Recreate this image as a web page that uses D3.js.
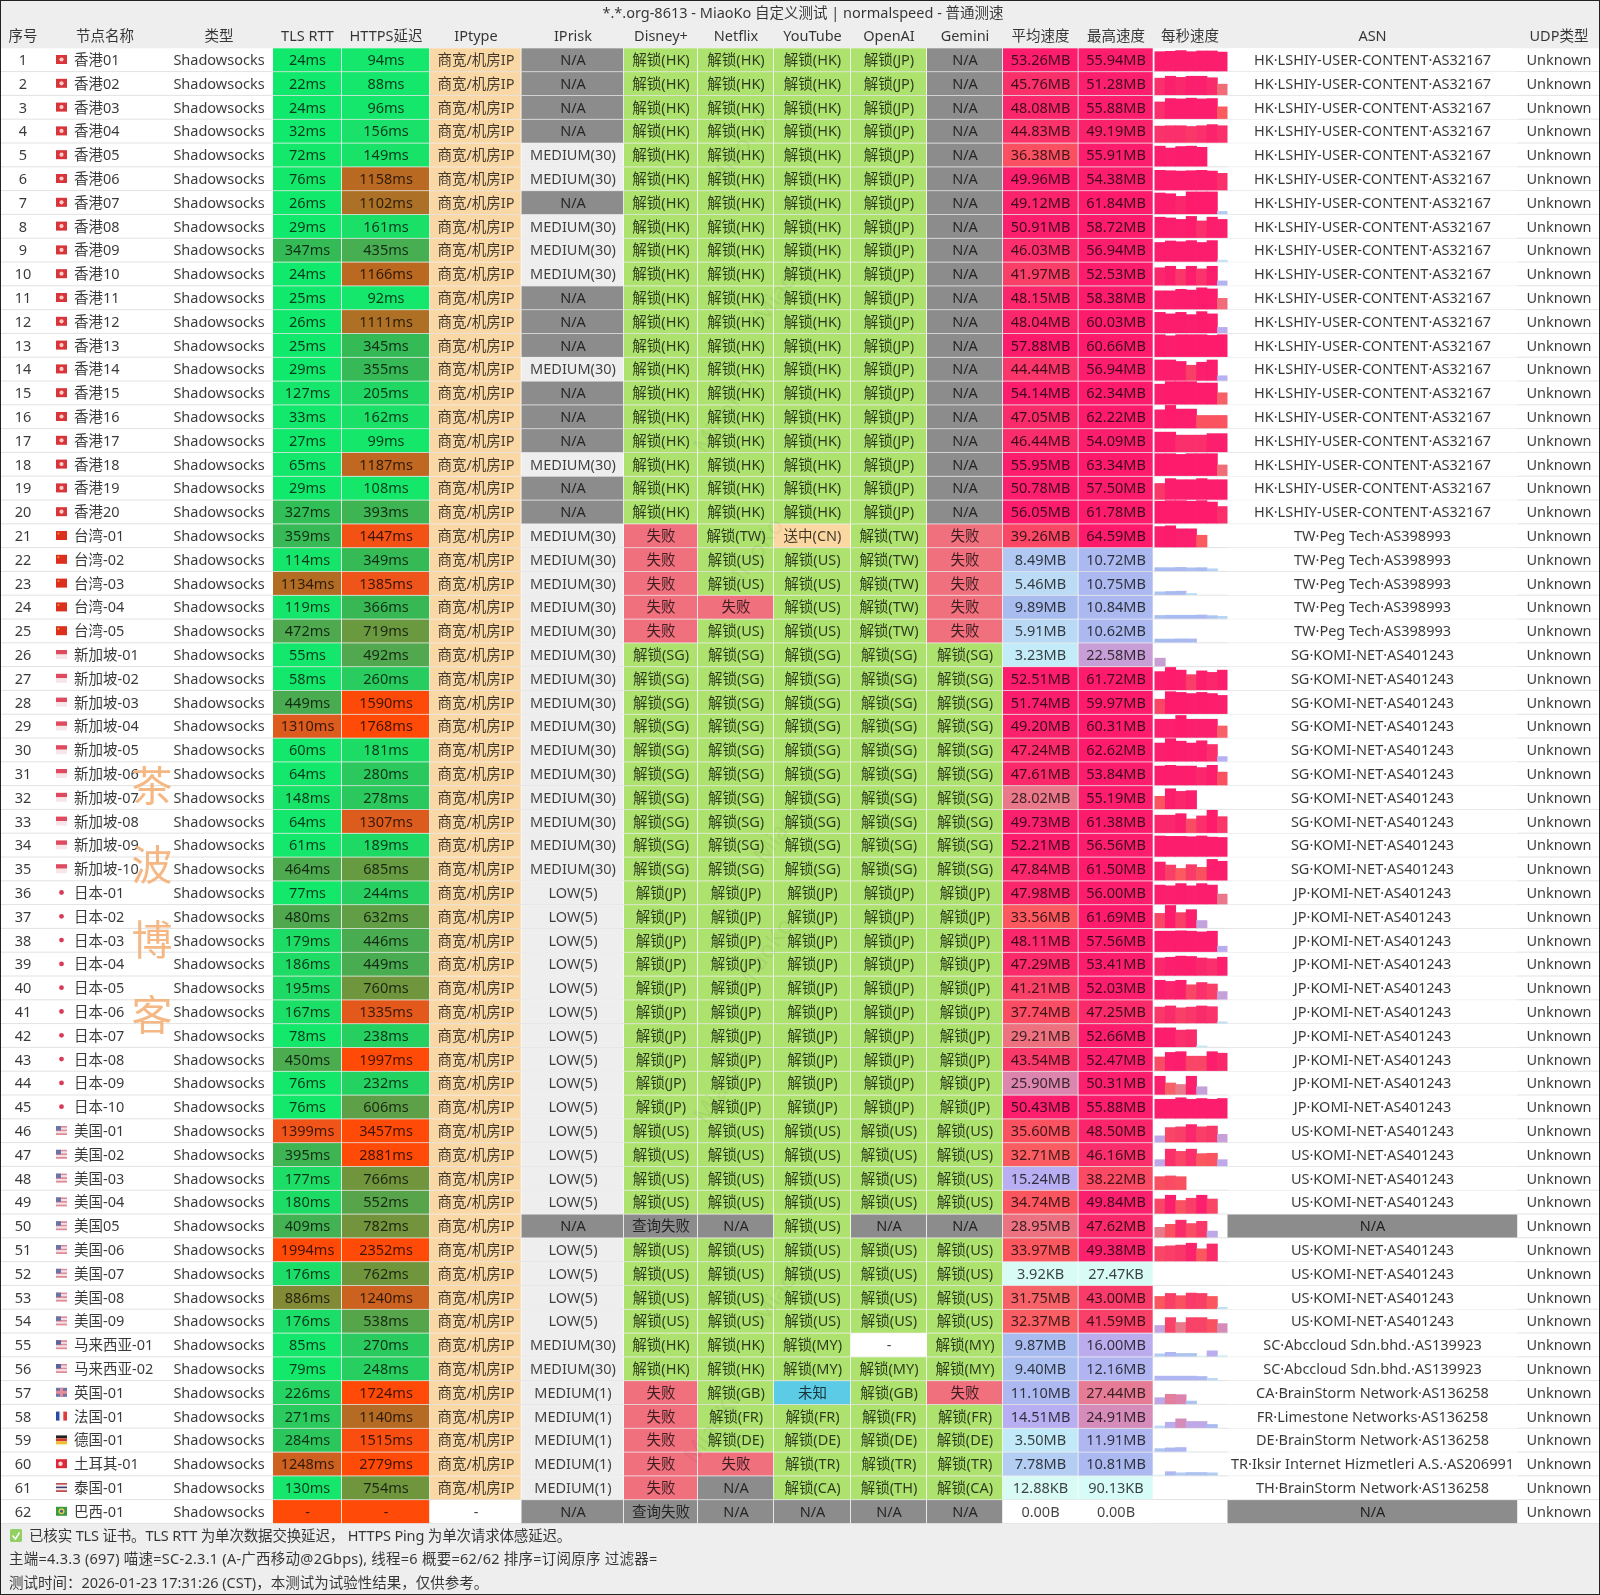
<!DOCTYPE html>
<html>
<head>
<meta charset="utf-8">
<title>MiaoKo normalspeed</title>
<script src="https://cdn.jsdelivr.net/npm/d3@7"></script>
<style>
  html, body { margin: 0; background: #fff; }
  svg { display: block; filter: blur(0.35px); }
  text { font-family: "Noto Sans", "Noto Sans CJK SC", sans-serif; font-size: 14.5px; }
</style>
</head>
<body>
<script>
var titleText = "*.*.org-8613 - MiaoKo 自定义测试 | normalspeed - 普通测速";
var headers = ["序号", "节点名称", "类型", "TLS RTT", "HTTPS延迟", "IPtype", "IPrisk", "Disney+", "Netflix", "YouTube", "OpenAI", "Gemini", "平均速度", "最高速度", "每秒速度", "ASN", "UDP类型"];
var footerLines = [
    "已核实 TLS 证书。TLS RTT 为单次数据交换延迟， HTTPS Ping 为单次请求体感延迟。",
    "主端=4.3.3 (697) 喵速=SC-2.3.1 (A-广西移动@2Gbps), 线程=6 概要=62/62 排序=订阅原序 过滤器=",
    "测试时间：2026-01-23 17:31:26 (CST)，本测试为试验性结果，仅供参考。"
];

var nodes = ["香港01","香港02","香港03","香港04","香港05","香港06","香港07","香港08","香港09","香港10","香港11","香港12","香港13","香港14","香港15","香港16","香港17","香港18","香港19","香港20",
    "台湾-01","台湾-02","台湾-03","台湾-04","台湾-05",
    "新加坡-01","新加坡-02","新加坡-03","新加坡-04","新加坡-05","新加坡-06","新加坡-07","新加坡-08","新加坡-09","新加坡-10",
    "日本-01","日本-02","日本-03","日本-04","日本-05","日本-06","日本-07","日本-08","日本-09","日本-10",
    "美国-01","美国-02","美国-03","美国-04","美国05","美国-06","美国-07","美国-08","美国-09",
    "马来西亚-01","马来西亚-02","英国-01","法国-01","德国-01","土耳其-01","泰国-01","巴西-01"];

var tlsRtt = ["24ms","22ms","24ms","32ms","72ms","76ms","26ms","29ms","347ms","24ms","25ms","26ms","25ms","29ms","127ms","33ms","27ms","65ms","29ms","327ms",
    "359ms","114ms","1134ms","119ms","472ms","55ms","58ms","449ms","1310ms","60ms","64ms","148ms","64ms","61ms","464ms",
    "77ms","480ms","179ms","186ms","195ms","167ms","78ms","450ms","76ms","76ms",
    "1399ms","395ms","177ms","180ms","409ms","1994ms","176ms","886ms","176ms","85ms","79ms","226ms","271ms","284ms","1248ms","130ms","-"];
var httpsPing = ["94ms","88ms","96ms","156ms","149ms","1158ms","1102ms","161ms","435ms","1166ms","92ms","1111ms","345ms","355ms","205ms","162ms","99ms","1187ms","108ms","393ms",
    "1447ms","349ms","1385ms","366ms","719ms","492ms","260ms","1590ms","1768ms","181ms","280ms","278ms","1307ms","189ms","685ms",
    "244ms","632ms","446ms","449ms","760ms","1335ms","238ms","1997ms","232ms","606ms",
    "3457ms","2881ms","766ms","552ms","782ms","2352ms","762ms","1240ms","538ms","270ms","248ms","1724ms","1140ms","1515ms","2779ms","754ms","-"];

var ipRisk = ("N/A N/A N/A N/A M30 M30 N/A M30 M30 M30 N/A N/A N/A M30 N/A N/A N/A M30 N/A N/A " +
    "M30 M30 M30 M30 M30 M30 M30 M30 M30 M30 M30 M30 M30 M30 M30 " +
    "L5 L5 L5 L5 L5 L5 L5 L5 L5 L5 L5 L5 L5 L5 N/A L5 L5 L5 L5 M30 M30 M1 M1 M1 M1 M1 N/A").split(" ");

// region codes stand for 解锁(XX), the rest is printed as it is
var disney = ("HK HK HK HK HK HK HK HK HK HK HK HK HK HK HK HK HK HK HK HK 失败 失败 失败 失败 失败 " +
    "SG SG SG SG SG SG SG SG SG SG JP JP JP JP JP JP JP JP JP JP US US US US 查询失败 US US US US HK HK 失败 失败 失败 失败 失败 查询失败").split(" ");
var netflix = ("HK HK HK HK HK HK HK HK HK HK HK HK HK HK HK HK HK HK HK HK TW US US 失败 US " +
    "SG SG SG SG SG SG SG SG SG SG JP JP JP JP JP JP JP JP JP JP US US US US N/A US US US US HK HK GB FR DE 失败 N/A N/A").split(" ");
var youtube = ("HK HK HK HK HK HK HK HK HK HK HK HK HK HK HK HK HK HK HK HK 送中(CN) US US US US " +
    "SG SG SG SG SG SG SG SG SG SG JP JP JP JP JP JP JP JP JP JP US US US US US US US US US MY MY 未知 FR DE TR CA N/A").split(" ");
var openai = ("JP JP JP JP JP JP JP JP JP JP JP JP JP JP JP JP JP JP JP JP TW TW TW TW TW " +
    "SG SG SG SG SG SG SG SG SG SG JP JP JP JP JP JP JP JP JP JP US US US US N/A US US US US - MY GB FR DE TR TH N/A").split(" ");
var gemini = ("N/A N/A N/A N/A N/A N/A N/A N/A N/A N/A N/A N/A N/A N/A N/A N/A N/A N/A N/A N/A 失败 失败 失败 失败 失败 " +
    "SG SG SG SG SG SG SG SG SG SG JP JP JP JP JP JP JP JP JP JP US US US US N/A US US US US MY MY 失败 FR DE TR CA N/A").split(" ");

var avgSpeed = ["53.26MB","45.76MB","48.08MB","44.83MB","36.38MB","49.96MB","49.12MB","50.91MB","46.03MB","41.97MB","48.15MB","48.04MB","57.88MB","44.44MB","54.14MB","47.05MB","46.44MB","55.95MB","50.78MB","56.05MB",
    "39.26MB","8.49MB","5.46MB","9.89MB","5.91MB","3.23MB","52.51MB","51.74MB","49.20MB","47.24MB","47.61MB","28.02MB","49.73MB","52.21MB","47.84MB",
    "47.98MB","33.56MB","48.11MB","47.29MB","41.21MB","37.74MB","29.21MB","43.54MB","25.90MB","50.43MB",
    "35.60MB","32.71MB","15.24MB","34.74MB","28.95MB","33.97MB","3.92KB","31.75MB","32.37MB","9.87MB","9.40MB","11.10MB","14.51MB","3.50MB","7.78MB","12.88KB","0.00B"];
var maxSpeed = ["55.94MB","51.28MB","55.88MB","49.19MB","55.91MB","54.38MB","61.84MB","58.72MB","56.94MB","52.53MB","58.38MB","60.03MB","60.66MB","56.94MB","62.34MB","62.22MB","54.09MB","63.34MB","57.50MB","61.78MB",
    "64.59MB","10.72MB","10.75MB","10.84MB","10.62MB","22.58MB","61.72MB","59.97MB","60.31MB","62.62MB","53.84MB","55.19MB","61.38MB","56.56MB","61.50MB",
    "56.00MB","61.69MB","57.56MB","53.41MB","52.03MB","47.25MB","52.66MB","52.47MB","50.31MB","55.88MB",
    "48.50MB","46.16MB","38.22MB","49.84MB","47.62MB","49.38MB","27.47KB","43.00MB","41.59MB","16.00MB","12.16MB","27.44MB","24.91MB","11.91MB","10.81MB","90.13KB","0.00B"];

// per second speed in MB
var perSecond = [
    [53,54,56,53,55,55,52],[46,51,48,51,51,47,30],[46,55,54,56,54,55,33],[45,46,46,44,46,49,46],[55,50,54,55,52,0,0],
    [54,53,52,53,54,52,46],[57,55,48,60,60,60,8],[56,54,50,58,46,56,50],[52,56,54,57,52,57,5],[48,52,44,52,45,52,13],
    [50,50,54,52,58,55,30],[56,52,56,50,58,52,16],[60,57,60,60,60,58,60],[56,56,52,42,50,56,14],[55,62,62,62,58,58,32],
    [50,62,52,52,35,35,35],[54,54,46,46,46,50,50],[60,60,58,60,60,60,30],[44,57,54,54,57,54,54],[60,62,62,60,62,58,46],
    [56,58,50,50,33,0,0],[10,10,10.7,9.5,10,7,0],[9,10,10.7,5,0,0,0],[9.5,10,10,10,10.8,9,7],[10,10,10.6,10.4,0,0,0],
    [22.6,0,0,0,0,0,0],[50,61,54,42,52,48,54],[40,60,58,55,58,55,50],[50,50,60,50,50,50,32],[50,62,55,50,56,46,14],
    [52,54,52,52,48,54,36],[35,55,48,50,0,0,0],[48,48,52,38,46,61,44],[56,55,55,54,56,53,52],[50,42,33,43,36,57,52],
    [52,50,56,50,56,52,28],[40,61,42,50,21,0,0],[56,56,57,56,54,56,16],[48,50,53,52,48,46,50],[52,49,52,40,46,42,22],
    [44,47,42,44,47,45,5],[52,52,46,47,4,0,0],[38,50,52,40,40,52,48],[50,32,28,50,22,0,0],[52,52,56,52,54,52,54],
    [18,40,42,48,42,44,22],[18,46,40,46,34,35,18],[36,38,36,0,0,0,0],[40,50,36,42,50,40,0],[28,36,47,38,44,18,0],
    [40,42,44,49,34,47,0],[0,0,0,0,0,0,0],[34,42,36,43,42,34,5],[20,41,28,41,41,36,25],[8,12,9,9,2,16,3],
    [12,12,12,12,11,6,0],[18,27,26,9,0,0,0],[6,16,25,18,18,10,0],[9,11,12,1,0,0,0],[2,11,8,9,9,8,0],
    [0,0,0,0,0,0,0],[0,0,0,0,0,0,0]];

var asn = [];
d3.range(20).forEach(function () { asn.push("HK·LSHIY-USER-CONTENT·AS32167"); });
d3.range(5).forEach(function () { asn.push("TW·Peg Tech·AS398993"); });
d3.range(10).forEach(function () { asn.push("SG·KOMI-NET·AS401243"); });
d3.range(10).forEach(function () { asn.push("JP·KOMI-NET·AS401243"); });
asn = asn.concat(["US·KOMI-NET·AS401243","US·KOMI-NET·AS401243","US·KOMI-NET·AS401243","US·KOMI-NET·AS401243","N/A",
    "US·KOMI-NET·AS401243","US·KOMI-NET·AS401243","US·KOMI-NET·AS401243","US·KOMI-NET·AS401243",
    "SC·Abccloud Sdn.bhd.·AS139923","SC·Abccloud Sdn.bhd.·AS139923","CA·BrainStorm Network·AS136258","FR·Limestone Networks·AS136258",
    "DE·BrainStorm Network·AS136258","TR·Iksir Internet Hizmetleri A.S.·AS206991","TH·BrainStorm Network·AS136258","N/A"]);

var W = 1600, H = 1595;
var edges = [0, 46, 165, 273, 342, 430, 521.5, 624, 698, 774, 851, 927, 1003, 1078.5, 1153.5, 1227.5, 1518, 1600];
var headerX = [23, 105, 219, 307.5, 386, 476, 573, 661, 736, 812.5, 889, 965, 1040.5, 1116, 1190, 1372.5, 1559];

var y = d3.scaleBand().domain(d3.range(62)).range([48.3, 48.3 + 62 * 23.8]);
var rh = y.bandwidth();

var latencyColor = d3.scaleLinear()
    .domain([0, 130, 350, 470, 760, 1000, 1150, 1390, 1600])
    .range(["#10ea6c", "#16e66b", "#35ba56", "#4fa94f", "#70963d", "#94802f", "#b76a22", "#f0541a", "#ff4a08"])
    .clamp(true);
var speedColor = d3.scaleLinear()
    .domain([0, 0.001, 3, 5.5, 8.5, 10, 11, 15, 22.5, 26, 28, 33, 42, 50, 64])
    .range(["#ffffff", "#d8fbf6", "#c4ecf8", "#bcdcf6", "#b0c8f2", "#a8bbf0", "#adb8f0", "#b9aef2", "#c79fd6", "#dc84ae", "#e9788a", "#fb5a5e", "#f93f68", "#fb1f6d", "#ff1a6c"])
    .clamp(true);
var barHeight = d3.scaleLinear().domain([0, 61.7]).range([0, rh - 0.6]).clamp(true);
var barX = d3.scaleBand().domain(d3.range(7)).range([edges[14] + 1, edges[15]]);

function toMB(s) {
    var v = parseFloat(s);
    if (s.indexOf("MB") >= 0) return v;
    if (s.indexOf("KB") >= 0) return v / 1024;
    return 0;
}
function unlockColor(s) {
    if (s.indexOf("解锁") == 0) return "#aee26f";
    if (s == "失败") return "#f0707e";
    if (s == "N/A" || s == "查询失败") return "#8c8c8c";
    if (s.indexOf("送中") == 0) return "#fbd8a2";
    if (s == "未知") return "#5ccbe6";
    return "#fff";
}
function unlockText(s) {
    return /^[A-Z]{2}$/.test(s) ? "解锁(" + s + ")" : s;
}
var riskNames = { "N/A": "N/A", "M30": "MEDIUM(30)", "M1": "MEDIUM(1)", "L5": "LOW(5)" };

var svg = d3.select("body").append("svg").attr("width", W).attr("height", H);
svg.append("rect").attr("width", W).attr("height", H).attr("fill", "#eeeeee");
svg.append("rect").attr("y", y(0)).attr("width", W).attr("height", rh * 62).attr("fill", "#fff");

var rows = d3.range(62);
var rowCells = rows.map(function (i) {
    var speedA = toMB(avgSpeed[i]), speedM = toMB(maxSpeed[i]);
    var list = [
        { col: 0, text: String(i + 1) },
        { col: 2, text: "Shadowsocks" },
        { col: 3, text: tlsRtt[i], fill: latencyColor(tlsRtt[i] == "-" ? 9999 : parseInt(tlsRtt[i])) },
        { col: 4, text: httpsPing[i], fill: latencyColor(httpsPing[i] == "-" ? 9999 : parseInt(httpsPing[i])) },
        { col: 5, text: i == 61 ? "-" : "商宽/机房IP", fill: i == 61 ? "#fff" : "#f9d8a6" },
        { col: 6, text: riskNames[ipRisk[i]], fill: ipRisk[i] == "N/A" ? "#8c8c8c" : "#eeeeee" },
        { col: 7, text: unlockText(disney[i]), fill: unlockColor(unlockText(disney[i])) },
        { col: 8, text: unlockText(netflix[i]), fill: unlockColor(unlockText(netflix[i])) },
        { col: 9, text: unlockText(youtube[i]), fill: unlockColor(unlockText(youtube[i])) },
        { col: 10, text: unlockText(openai[i]), fill: unlockColor(unlockText(openai[i])) },
        { col: 11, text: unlockText(gemini[i]), fill: unlockColor(unlockText(gemini[i])) },
        { col: 12, text: avgSpeed[i], fill: speedColor(speedA) },
        { col: 13, text: maxSpeed[i], fill: speedColor(speedM) },
        { col: 15, text: asn[i], fill: asn[i] == "N/A" ? "#8c8c8c" : "#fff" },
        { col: 16, text: "Unknown" }
    ];
    return list;
});

var rowG = svg.selectAll("g.row").data(rows).join("g").attr("class", "row")
    .attr("transform", function (i) { return "translate(0," + y(i) + ")"; });

rowG.append("line").attr("x1", 0).attr("x2", W).attr("y1", rh - 0.5).attr("y2", rh - 0.5).attr("stroke", "#e2e2e2");

rowG.selectAll("rect.cell").data(function (i) { return rowCells[i].filter(function (c) { return c.fill; }); })
    .join("rect").attr("class", "cell")
    .attr("x", function (c) { return edges[c.col]; })
    .attr("width", function (c) { return edges[c.col + 1] - edges[c.col] - 0.8; })
    .attr("height", rh - 0.8)
    .attr("fill", function (c) { return c.fill; });

// per second bars, drawn a bit wider so neighbours touch
rowG.selectAll("rect.bar").data(function (i) { return perSecond[i].filter(function (v) { return v > 0; }); })
    .join("rect").attr("class", "bar")
    .attr("x", function (v, k) { return barX(k); })
    .attr("width", function (v, k) { return barX.bandwidth() + (k < 6 ? 0.7 : 0); })
    .attr("y", function (v) { return rh - 0.8 - barHeight(v); })
    .attr("height", function (v) { return barHeight(v); })
    .attr("fill", function (v) { return speedColor(v); });

rowG.selectAll("text.val").data(function (i) { return rowCells[i]; })
    .join("text").attr("class", "val")
    .attr("x", function (c) { return headerX[c.col]; })
    .attr("y", rh / 2 - 1.2)
    .attr("text-anchor", "middle")
    .attr("dominant-baseline", "central")
    .attr("fill", "#000")
    .attr("fill-opacity", function (c) { return c.col <= 2 || c.col == 15 || c.col == 16 ? 0.78 : 0.74; })
    .text(function (c) { return c.text; });

rowG.append("text")
    .attr("x", 74)
    .attr("y", rh / 2 - 1.2)
    .attr("dominant-baseline", "central")
    .attr("fill", "#000").attr("fill-opacity", 0.78)
    .text(function (i) { return nodes[i]; });

// little flags, picked by the node name
var flagCode = { "香港": "hk", "台湾": "tw", "新加坡": "sg", "日本": "jp", "美国": "us", "马来西亚": "my", "英国": "gb", "法国": "fr", "德国": "de", "土耳其": "tr", "泰国": "th", "巴西": "br" };
function stripes(g, cols, vertical) {
    cols.forEach(function (c, k) {
        var n = cols.length;
        g.append("rect")
            .attr("x", vertical ? 11 * k / n : 0).attr("y", vertical ? 0 : 9 * k / n)
            .attr("width", vertical ? 11 / n : 11).attr("height", vertical ? 9 : 9 / n)
            .attr("fill", c);
    });
}
var flagPaint = {
    hk: function (g) { stripes(g, ["#d8343a"]); g.append("circle").attr("cx", 5.5).attr("cy", 4.5).attr("r", 2.1).attr("fill", "#f8d0c8"); },
    tw: function (g) { stripes(g, ["#dd2f1e"]); g.append("circle").attr("cx", 2.5).attr("cy", 2.5).attr("r", 1).attr("fill", "#e8a030"); },
    sg: function (g) { stripes(g, ["#e04a60", "#f6e6e8"]); },
    jp: function (g) { g.append("circle").attr("cx", 5.5).attr("cy", 4.5).attr("r", 2.4).attr("fill", "#d83a5a"); },
    us: function (g) { stripes(g, ["#e08a98", "#f4dfe2", "#e08a98", "#f4dfe2", "#e08a98"]); g.append("rect").attr("width", 5).attr("height", 4.5).attr("fill", "#6a74a8"); },
    my: function (g) { stripes(g, ["#e08a98", "#f4dfe2", "#e08a98", "#f4dfe2", "#e08a98"]); g.append("rect").attr("width", 5).attr("height", 4.5).attr("fill", "#5a64a0"); },
    gb: function (g) {
        stripes(g, ["#6a74a8"]);
        g.append("rect").attr("x", 4).attr("width", 3).attr("height", 9).attr("fill", "#e88a98");
        g.append("rect").attr("y", 3).attr("width", 11).attr("height", 3).attr("fill", "#e88a98");
    },
    fr: function (g) { stripes(g, ["#2c4aa0", "#f4f4f4", "#e03a3a"], true); },
    de: function (g) { stripes(g, ["#222222", "#d83a2a", "#f0c030"]); },
    tr: function (g) { stripes(g, ["#dc2a3a"]); g.append("circle").attr("cx", 4.5).attr("cy", 4.5).attr("r", 2.2).attr("fill", "#f8d8d8"); },
    th: function (g) { stripes(g, ["#c04a50", "#f0e8e8", "#3a3a70", "#f0e8e8", "#c04a50"]); },
    br: function (g) {
        stripes(g, ["#3a9a44"]);
        g.append("circle").attr("cx", 5.5).attr("cy", 4.5).attr("r", 3).attr("fill", "#e0d050");
        g.append("circle").attr("cx", 5.5).attr("cy", 4.5).attr("r", 1.5).attr("fill", "#3a5a90");
    }
};
rowG.each(function (i) {
    var g = d3.select(this).append("g").attr("transform", "translate(56," + (rh / 2 - 5.2) + ")");
    var code = flagCode[nodes[i].replace(/-?\d+$/, "")];
    flagPaint[code](g);
});

// header, title, footer
svg.selectAll("text.head").data(headers).join("text").attr("class", "head")
    .attr("x", function (d, i) { return headerX[i]; })
    .attr("y", 35)
    .attr("text-anchor", "middle")
    .attr("dominant-baseline", "central")
    .attr("fill", "#000").attr("fill-opacity", 0.78)
    .text(function (d) { return d; });
svg.append("text").attr("x", 803).attr("y", 11.5)
    .attr("text-anchor", "middle").attr("dominant-baseline", "central")
    .attr("fill", "#000").attr("fill-opacity", 0.78)
    .text(titleText);

var footY = [1534.5, 1558, 1581.5];
var footSpacing = [-0.16, 0.25, 0];
svg.selectAll("text.foot").data(footerLines).join("text").attr("class", "foot")
    .attr("x", function (d, i) { return i == 0 ? 29 : 9; })
    .attr("y", function (d, i) { return footY[i]; })
    .attr("dominant-baseline", "central")
    .attr("fill", "#000").attr("fill-opacity", 0.78)
    .style("letter-spacing", function (d, i) { return footSpacing[i] + "px"; })
    .text(function (d) { return d; });
svg.append("rect").attr("x", 10).attr("y", 1529).attr("width", 12).attr("height", 13).attr("rx", 1.5)
    .attr("fill", "#93d064");
svg.append("path").attr("d", "M12.5,1535.5 l3,3.5 l4,-6.5").attr("fill", "none").attr("stroke", "#fff").attr("stroke-width", 1.5);

// faint diagonal MiaoKo marks
var markers = [[745, 155], [790, 290], [730, 420], [760, 560], [790, 830], [770, 960], [730, 1090], [790, 1290], [720, 1430]];
svg.selectAll("text.mark").data(markers).join("text").attr("class", "mark")
    .attr("transform", function (d) { return "translate(" + d[0] + "," + d[1] + ") rotate(-55)"; })
    .attr("text-anchor", "middle")
    .attr("fill", "#000").attr("fill-opacity", 0.05)
    .style("font-size", "24px")
    .text("MiaoKo");

// orange side stamp
var stamp = ["茶", "波", "博", "客"], stampY = [783, 862, 937, 1012];
svg.selectAll("text.stamp").data(stamp).join("text").attr("class", "stamp")
    .attr("x", 152)
    .attr("y", function (d, i) { return stampY[i]; })
    .attr("text-anchor", "middle").attr("dominant-baseline", "central")
    .attr("fill", "#f4b27a").attr("fill-opacity", 0.92)
    .style("font-size", "41px")
    .style("font-family", '"Noto Sans CJK SC"')
    .text(function (d) { return d; });

// dark screen edge
svg.append("rect").attr("x", 0.5).attr("y", 0.5).attr("width", W - 1).attr("height", H - 1)
    .attr("fill", "none").attr("stroke", "#222");
</script>
</body>
</html>
